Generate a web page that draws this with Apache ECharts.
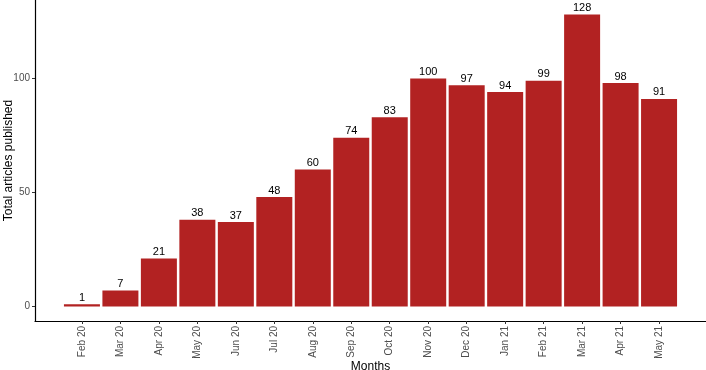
<!DOCTYPE html>
<html><head><meta charset="utf-8">
<script src="https://cdn.jsdelivr.net/npm/echarts@6/dist/echarts.min.js"></script>
<style>html,body{margin:0;padding:0;background:#fff}#c{width:706px;height:370px}</style>
</head><body><div id="c"></div>
<script>
const months = ["Feb 20","Mar 20","Apr 20","May 20","Jun 20","Jul 20","Aug 20","Sep 20","Oct 20","Nov 20","Dec 20","Jan 21","Feb 21","Mar 21","Apr 21","May 21"];
const articles = [1,7,21,38,37,48,60,74,83,100,97,94,99,128,98,91];
const yTicks = [0,50,100];
const idx = months.map((m,i)=>i);
const font = "Liberation Sans, Arial, Helvetica, sans-serif";
const chart = echarts.init(document.getElementById('c'), null, {renderer:'canvas'});
chart.setOption({
  animation:false,
  grid:{left:35, right:0, top:0, height:321, containLabel:false, outerBoundsMode:'none'},
  xAxis:{
    type:'value', min:-1.22, max:16.22,
    name:'Months', nameLocation:'middle', nameGap:40, nameMoveOverlap:false,
    nameTextStyle:{color:'#000', fontSize:12, fontFamily:font},
    axisLine:{show:true, onZero:false, lineStyle:{color:'#000', width:1.2}},
    axisTick:{show:true, length:3, customValues:idx, lineStyle:{color:'#333'}},
    axisLabel:{customValues:idx, rotate:90, color:'#4d4d4d', fontSize:10, fontFamily:font, margin:5,
      formatter:v=>months[Math.round(v)] ?? ''},
    splitLine:{show:false}
  },
  yAxis:{
    type:'value', min:-6.4, max:134.4,
    name:'Total articles published', nameLocation:'middle', nameGap:20, nameMoveOverlap:false,
    nameTextStyle:{color:'#000', fontSize:12, fontFamily:font},
    axisLine:{show:true, onZero:false, lineStyle:{color:'#000', width:1.2}},
    axisTick:{show:true, length:3, customValues:yTicks, lineStyle:{color:'#333'}},
    axisLabel:{customValues:yTicks, color:'#4d4d4d', fontSize:10, fontFamily:font, margin:5},
    splitLine:{show:false}
  },
  series:[{
    type:'bar',
    data: articles.map((v,i)=>[i,v]),
    barWidth:36,
    itemStyle:{color:'#B22222'},
    label:{show:true, position:'top', distance:1, color:'#000', fontSize:11, fontFamily:font,
      formatter:p=>p.value[1]}
  }]
});
</script></body></html>
